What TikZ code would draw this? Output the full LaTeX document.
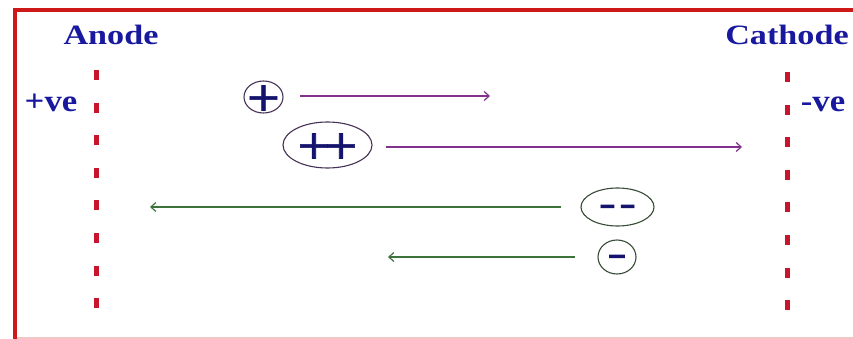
\documentclass[tikz,border=0pt]{standalone}
\usepackage{fontspec}
\setmainfont{Liberation Serif}
\newfontfamily\sgnfont[FakeBold=1.5]{DejaVu Sans}
\usetikzlibrary{arrows.meta,shapes.geometric}
\definecolor{bordred}{RGB}{205,25,25}
\definecolor{dashred}{RGB}{200,20,45}
\definecolor{lblue}{RGB}{25,25,160}
\definecolor{navy}{RGB}{20,20,110}
\definecolor{arpurple}{RGB}{130,50,140}
\definecolor{argreen}{RGB}{60,115,60}
\definecolor{ionpos}{RGB}{70,50,85}
\definecolor{ionneg}{RGB}{55,75,55}
\tikzset{
  electrode/.style={font=\fontsize{28}{28}\selectfont\bfseries, text=lblue, inner sep=0pt, anchor=base},
  polarity/.style={font=\fontsize{31}{31}\selectfont\bfseries, text=lblue, inner sep=0pt, anchor=base},
  plate/.style={dashred, line width=5pt, dash pattern=on 10pt off 22.6pt},
  ion/.style={ellipse, draw=#1, line width=1.1pt, inner sep=0pt},
  sign/.style={font=\sgnfont\fontsize{35}{35}\selectfont, text=navy, inner sep=0pt},
  bigsign/.style={font=\sgnfont\fontsize{40}{40}\selectfont, text=navy, inner sep=0pt},
  drift/.style={#1, line width=1.4pt, -{Straight Barb[length=5pt,width=9pt,line width=1.2pt]}}
}
\begin{document}
\begin{tikzpicture}[x=1pt,y=-1pt]
\useasboundingbox (0,0) rectangle (853,339);
\fill[white] (0,0) rectangle (853,339);
% frame
\draw[bordred!25, line width=2pt] (15,338) -- (853,338);
\draw[bordred, line width=4pt] (15,339) -- (15,10) -- (853,10);
% labels
\node[electrode] (anode) at (111,45) {\scalebox{1.22}[1]{Anode}};
\node[electrode] (cathode) at (787,45) {\scalebox{1.22}[1]{Cathode}};
\node[polarity] (pos) at (51,112) {\scalebox{1.12}[1]{+ve}};
\node[polarity] (neg) at (823,112) {\scalebox{1.12}[1]{-ve}};
% plates
\draw[plate] (96,70) -- (96,309);
\draw[plate] (787,72) -- (787,311);
% ions
\node[ion=ionpos, minimum width=39pt, minimum height=32pt,
  label={[bigsign,yshift=-1pt]center:\scalebox{1.08}[1]{+}}] (p1) at (263.5,97) {};
\node[ion=ionpos, minimum width=89pt, minimum height=46pt,
  label={[bigsign,yshift=-1pt]center:\scalebox{1.08}[1]{+\kern-0.21em+}}] (p2) at (327.5,145) {};
\node[ion=ionneg, minimum width=73pt, minimum height=38pt,
  label={[sign,yshift=-3.5pt]center:\scalebox{1.4}[1]{-\kern0.05em-}}] (n2) at (617.5,207) {};
\node[ion=ionneg, minimum width=38pt, minimum height=34pt,
  label={[sign,yshift=-3.5pt]center:\scalebox{1.6}[1]{-}}] (n1) at (617,257) {};
% arrows
\coordinate (a1s) at (300,96);  \coordinate (a1e) at (490,96);
\coordinate (a2s) at (386,147); \coordinate (a2e) at (742,147);
\coordinate (a3s) at (561,207); \coordinate (a3e) at (150,207);
\coordinate (a4s) at (575,257); \coordinate (a4e) at (388,257);
\draw[drift=arpurple] (a1s) -- (a1e);
\draw[drift=arpurple] (a2s) -- (a2e);
\draw[drift=argreen] (a3s) -- (a3e);
\draw[drift=argreen] (a4s) -- (a4e);
\end{tikzpicture}
\end{document}
